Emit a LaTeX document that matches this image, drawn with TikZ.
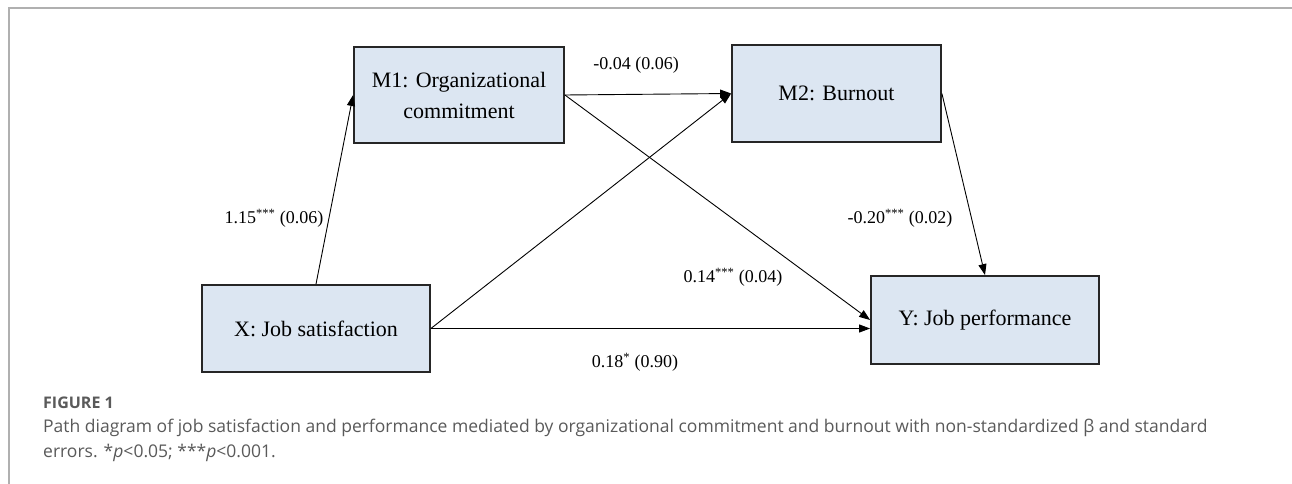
\documentclass[tikz,border=0pt]{standalone}
\usepackage{fontspec}
\setmainfont{Liberation Serif}
\newfontfamily\capfont{Open Sans}
\usetikzlibrary{arrows.meta}
\definecolor{boxfill}{HTML}{DCE6F2}
\definecolor{capgray}{HTML}{5A5A5A}
\definecolor{framegray}{HTML}{B0B0B0}
\begin{document}
\begin{tikzpicture}[x=1pt,y=-1pt,
  varbox/.style={draw=black!85, line width=1.8pt, fill=boxfill, inner sep=0pt,
    align=center, font=\fontsize{22}{31}\selectfont},
  pathline/.style={-{Triangle[length=11pt,width=8pt]}, line width=0.9pt, black},
  coef/.style={font=\fontsize{18}{20}\selectfont, inner sep=0pt},
  captext/.style={anchor=west, inner sep=0pt, text=capgray, font=\capfont\fontsize{17.5}{25}\selectfont}]
\useasboundingbox (0,0) rectangle (1292,484);
\fill[white] (0,0) rectangle (1292,484);
% frame
\draw[framegray, line width=1.3pt] (9,484) -- (9,8) -- (1292,8);
% boxes
\node[varbox, minimum width=210pt, minimum height=96pt] (M1) at (459,95) {M1: Organizational\\commitment};
\node[varbox, minimum width=209pt, minimum height=97pt] (M2) at (836.5,93.5) {M2: Burnout};
\node[varbox, minimum width=228pt, minimum height=87pt] (X) at (316,328.5) {X: Job satisfaction};
\node[varbox, minimum width=228pt, minimum height=88pt] (Y) at (985,320) {Y: Job performance};
% paths
\draw[pathline] (X.north) -- (M1.west);
\draw[pathline] (M1.east) -- (M2.west);
\draw[pathline] (X.east) -- (M2.west);
\draw[pathline] (M1.east) -- (Y.west);
\draw[pathline] (X.east) -- (X.east -| Y.west);
\draw[pathline] (M2.east) -- (Y.north);
% coefficients
\node[coef] (c1) at (274,218) {1.15\textsuperscript{***} (0.06)};
\node[coef] (c2) at (636,65) {-0.04 (0.06)};
\node[coef] (c3) at (900,218) {-0.20\textsuperscript{***} (0.02)};
\node[coef] (c4) at (733,277) {0.14\textsuperscript{***} (0.04)};
\node[coef] (c5) at (635,362) {0.18\textsuperscript{*} (0.90)};
% caption
\node[captext, font=\capfont\bfseries\fontsize{16}{20}\selectfont] (fig) at (43,403) {FIGURE 1};
\node[captext] (cap1) at (43,428) {Path diagram of job satisfaction and performance mediated by organizational commitment and burnout with non-standardized β and standard};
\node[captext] (cap2) at (43,453) {errors. *\textit{p}<0.05; ***\textit{p}<0.001.};
\end{tikzpicture}
\end{document}
